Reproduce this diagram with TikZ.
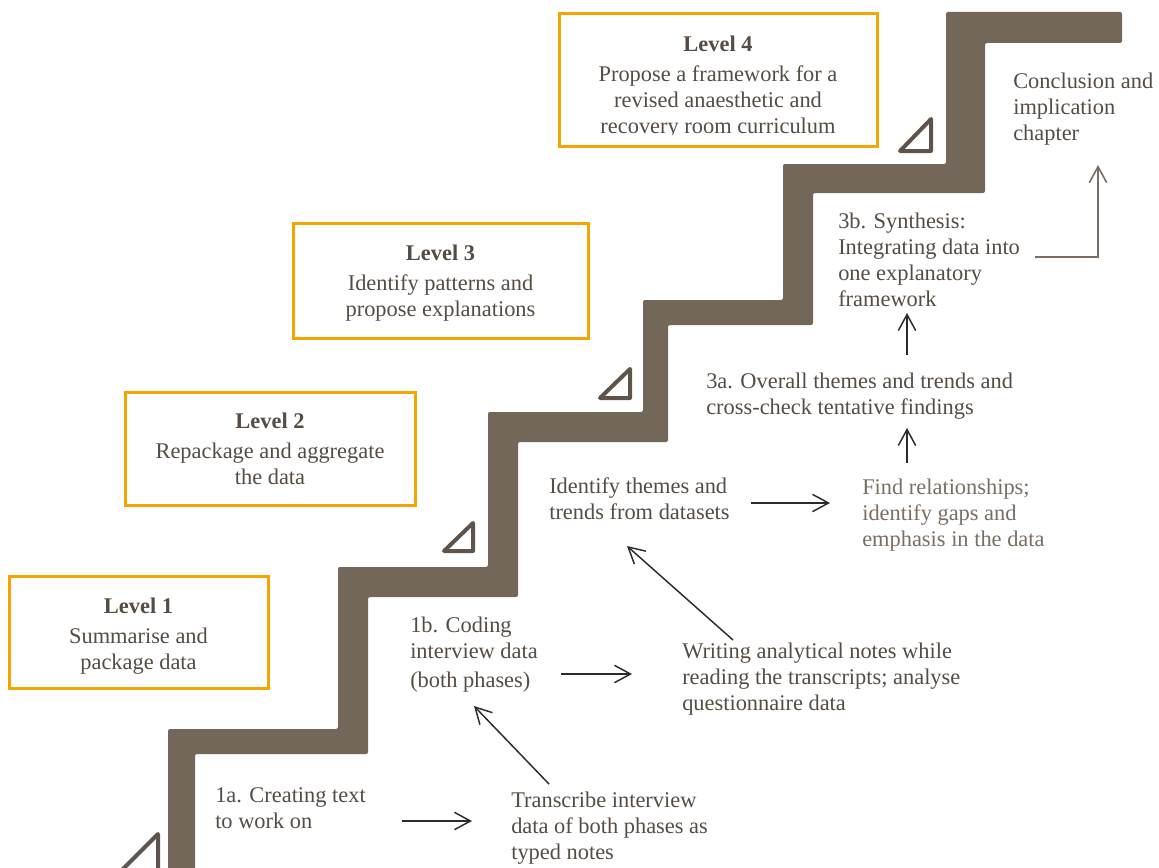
\documentclass[tikz,border=0pt]{standalone}
\usepackage{fontspec}
\setmainfont{Liberation Serif}
\usetikzlibrary{arrows.meta}
\definecolor{stair}{HTML}{736759}
\definecolor{tri}{HTML}{5F544B}
\definecolor{lvl}{HTML}{F5A400}
\definecolor{txt}{HTML}{554C44}
\definecolor{soft}{HTML}{7A6E63}
\definecolor{ink}{HTML}{2E2A27}
% strut fixing the height of the first line above its baseline (16px)
\newcommand\firstline{\rule{0pt}{12pt}}
\begin{document}
\begin{tikzpicture}[x=0.75pt,y=-0.75pt,
  lbl/.style={anchor=north west, inner sep=0pt, align=left, text=txt,
    font=\fontsize{16.8}{19.5}\selectfont},
  lvltext/.style={anchor=north, inner sep=0pt, align=center, text=txt,
    font=\fontsize{16.8}{19.5}\selectfont},
  lvlbox/.style={draw=lvl, line width=2.25pt},
  tribox/.style={draw=tri, line width=3pt, line join=round},
  arr/.style={draw=ink, line width=1.1pt, -{Straight Barb[length=12pt,width=13pt]}},
  arrsoft/.style={draw=soft, line width=1.2pt, -{Straight Barb[length=12pt,width=13pt]}}]
\useasboundingbox (0,0) rectangle (1159,867);
\clip (0,0) rectangle (1159,867);

% staircase
\fill[stair, rounded corners=1.5pt]
  (168,875) -- (168,729) -- (338,729) -- (338,567) -- (488,567) -- (488,412)
  -- (643,412) -- (643,300) -- (783,300) -- (783,164) -- (946,164) -- (946,12)
  -- (1122,12) -- (1122,43) -- (985,43) -- (985,193) -- (813,193) -- (813,325)
  -- (668,325) -- (668,442) -- (518,442) -- (518,597) -- (368,597) -- (368,754)
  -- (195,754) -- (195,875) -- cycle;

% small triangles on each step
\draw[tribox] (120,872) -- (158,872) -- (158,834) -- cycle;
\draw[tribox] (444,551) -- (473,551) -- (473,523) -- cycle;
\draw[tribox] (600,398) -- (630,398) -- (630,369) -- cycle;
\draw[tribox] (900,151) -- (931,151) -- (931,119) -- cycle;

% level boxes
\node[lvlbox, minimum width=238.5pt, minimum height=99pt] (L4) at (718,80) {};
\node[lvlbox, minimum width=221.25pt, minimum height=86.25pt] (L3) at (440.5,280.5) {};
\node[lvlbox, minimum width=217.5pt, minimum height=84.75pt] (L2) at (270,448.5) {};
\node[lvlbox, minimum width=194.25pt, minimum height=84pt] (L1) at (138.5,632) {};

\begin{scope}
  \clip (559,14) rectangle (877,134);
  \node[lvltext] (t4) at (718,35) {\firstline\textbf{Level 4}\\[3.5pt]
    Propose a framework for a\\revised anaesthetic and\\recovery room curriculum};
\end{scope}
\node[lvltext] (t3) at (440.5,244) {\firstline\textbf{Level 3}\\[3.5pt]
  Identify patterns and\\propose explanations};
\node[lvltext] (t2) at (270,412) {\firstline\textbf{Level 2}\\[3.5pt]
  Repackage and aggregate\\the data};
\node[lvltext] (t1) at (138.5,597) {\firstline\textbf{Level 1}\\[3.5pt]
  Summarise and\\package data};

% step texts
\node[lbl] (n1a) at (215,786) {\firstline 1a. Creating text\\to work on};
\node[lbl] (ntr) at (511,791) {\firstline Transcribe interview\\data of both phases as\\typed notes};
\node[lbl] (n1b) at (410,616) {\firstline 1b. Coding\\interview data\\[2.5pt](both phases)};
\node[lbl] (nwr) at (682,642) {\firstline Writing analytical notes while\\reading the transcripts; analyse\\questionnaire data};
\node[lbl] (nid) at (549,477) {\firstline Identify themes and\\trends from datasets};
\node[lbl, text=soft] (nfi) at (862,478) {\firstline Find relationships;\\identify gaps and\\emphasis in the data};
\node[lbl] (n3a) at (706,372) {\firstline 3a. Overall themes and trends and\\cross-check tentative findings};
\node[lbl] (n3b) at (838,212) {\firstline 3b. Synthesis:\\Integrating data into\\one explanatory\\framework};
\node[lbl] (nco) at (1013,72) {\firstline Conclusion and\\implication\\chapter};

% connector ends
\coordinate (a1s) at (402,821);   \coordinate (a1e) at (472,821);
\coordinate (a2s) at (549,784);   \coordinate (a2e) at (474,706);
\coordinate (a3s) at (561,674);   \coordinate (a3e) at (632,674);
\coordinate (a4s) at (733,640);   \coordinate (a4e) at (627,546);
\coordinate (a5s) at (751,503);   \coordinate (a5e) at (830,503);
\coordinate (a6s) at (907,463);   \coordinate (a6e) at (907,428);
\coordinate (a7s) at (907,355);   \coordinate (a7e) at (907,313);
\coordinate (a8s) at (1035,257);  \coordinate (a8e) at (1098,165);

\draw[arr] (a1s) -- (a1e);
\draw[arr] (a2s) -- (a2e);
\draw[arr] (a3s) -- (a3e);
\draw[arr] (a4s) -- (a4e);
\draw[arr] (a5s) -- (a5e);
\draw[arr] (a6s) -- (a6e);
\draw[arr] (a7s) -- (a7e);
\draw[arrsoft] (a8s) -| (a8e);
\end{tikzpicture}
\end{document}
